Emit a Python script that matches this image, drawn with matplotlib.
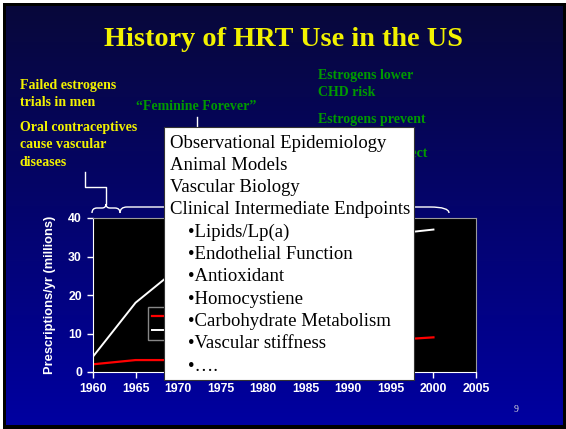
import matplotlib
matplotlib.use("Agg")
import matplotlib.pyplot as plt
from matplotlib.patches import Rectangle
from matplotlib.path import Path
from matplotlib.patches import PathPatch
import numpy as np

# data (middle section is hidden by the text box, estimated)
YEARS = [1960, 1965, 1970, 1975, 1980, 1985, 1990, 1995, 2000]
ESTROGEN = [4, 18, 27, 28, 16, 20, 27, 35.8, 37]
PROGESTIN = [2, 3.1, 3.1, 3.5, 4, 5, 6.5, 8.3, 9]
SERIES_NAMES = ["Progestins", "Estrogens"]
Y_TICKS = [0, 10, 20, 30, 40]
X_TICKS = [1960, 1965, 1970, 1975, 1980, 1985, 1990, 1995, 2000, 2005]

TITLE = "History of HRT Use in the US"
YELLOW_NOTES = ["Failed estrogens\ntrials in men",
                "Oral contraceptives\ncause vascular\ndiseases"]
GREEN_NOTES = ["\u201cFeminine Forever\u201d", "Estrogens lower\nCHD risk",
               "Estrogens prevent", "Cardioprotective effect"]
BOX_MAIN = ["Observational Epidemiology", "Animal Models", "Vascular Biology",
            "Clinical Intermediate Endpoints"]
BOX_BULLETS = ["Lipids/Lp(a)", "Endothelial Function", "Antioxidant",
               "Homocystiene", "Carbohydrate Metabolism", "Vascular stiffness",
               "\u2026."]

W, H = 566, 429
YEL = "#f2f200"
GRN = "#009a00"
SERIF = "Liberation Serif"
SANS = "Liberation Sans"


def pixel_axes(fig, zorder):
    a = fig.add_axes([0, 0, 1, 1], zorder=zorder)
    a.axis("off")
    a.patch.set_alpha(0)
    return a


fig = plt.figure(figsize=(W / 100, H / 100), dpi=100, facecolor="white")

# --- background slide (pixel coordinates) ---
bg = pixel_axes(fig, 0)
bg.add_patch(Rectangle((3, 3), W - 3, H - 3, facecolor="black",
                       edgecolor="none", zorder=0))
t = np.linspace(0, 1, 256)[:, None, None]
top = np.array([0.03, 0.03, 0.23])
bot = np.array([0.0, 0.0, 0.63])
grad = (top + (bot - top) * t) * np.ones((1, 2, 1))
bg.imshow(grad, extent=(6, 563, 425, 6), aspect="auto",
          interpolation="bilinear", zorder=0.5)

bg.text(284, 40, TITLE, color=YEL, fontsize=20.3, fontweight="bold",
        family=SERIF, ha="center", va="center")
bg.text(20, 94, YELLOW_NOTES[0], color=YEL, fontsize=10, fontweight="bold",
        family=SERIF, ha="left", va="center", linespacing=1.35)
bg.text(20, 145, YELLOW_NOTES[1], color=YEL, fontsize=10, fontweight="bold",
        family=SERIF, ha="left", va="center", linespacing=1.42)
bg.text(136, 106, GREEN_NOTES[0], color=GRN, fontsize=10, fontweight="bold",
        family=SERIF, ha="left", va="center")
bg.text(318, 84, GREEN_NOTES[1], color=GRN, fontsize=10, fontweight="bold",
        family=SERIF, ha="left", va="center", linespacing=1.45)
bg.text(318, 119, GREEN_NOTES[2], color=GRN, fontsize=10, fontweight="bold",
        family=SERIF, ha="left", va="center")
bg.text(427, 154, GREEN_NOTES[3], color=GRN, fontsize=10, fontweight="bold",
        family=SERIF, ha="right", va="center")
bg.text(516, 409, "9", color="#dddddd", fontsize=7, family=SERIF,
        ha="center", va="center")

# connectors and braces
lw = 1.0
bg.plot([85, 85, 106, 106], [172, 187, 187, 204], color="white", lw=lw)
bg.plot([197, 197], [117, 127], color="white", lw=lw)
M, L, C = Path.MOVETO, Path.LINETO, Path.CURVE3
brace1 = Path([(92, 213), (92, 208), (97, 208), (102, 208),
               (106, 208), (106, 204), (106, 208), (110, 208),
               (115, 208), (120, 208), (120, 213)],
              [M, C, C, L, C, C, C, C, L, C, C])
brace2 = Path([(120, 213), (120, 207), (127, 207), (430, 207),
               (449, 207), (449, 213)],
              [M, C, C, L, C, C])
for p in (brace1, brace2):
    bg.add_patch(PathPatch(p, facecolor="none", edgecolor="white", lw=lw))
bg.set_xlim(0, W)
bg.set_ylim(H, 0)

# --- the chart ---
x0, x1, y0, y1 = 93, 476, 372, 218
ax = fig.add_axes([x0 / W, (H - y0) / H, (x1 - x0) / W, (y0 - y1) / H], zorder=2)
ax.set_facecolor("black")
l_prog, = ax.plot(YEARS, PROGESTIN, color="#ff0000", lw=1.6)
l_est, = ax.plot(YEARS, ESTROGEN, color="white", lw=1.4)
ax.set_xlim(1960, 2005)
ax.set_ylim(0, 40)
ax.set_xticks(X_TICKS)
ax.set_yticks(Y_TICKS)
ax.tick_params(direction="out", length=4, color="white", labelcolor="white",
               labelsize=8.8, width=1, pad=4)
for lab in ax.get_xticklabels() + ax.get_yticklabels():
    lab.set_fontweight("bold")
    lab.set_family(SANS)
for s in ("left", "bottom"):
    ax.spines[s].set_color("white")
for s in ("top", "right"):
    ax.spines[s].set_color("#9a9a9a")
ax.set_ylabel("Prescriptions/yr (millions)", color="white", fontsize=9.3,
              fontweight="bold", family=SANS, labelpad=9)
leg = ax.legend([l_prog, l_est], SERIES_NAMES, loc="upper left",
                bbox_to_anchor=((148 - x0) / (x1 - x0), (y0 - 307) / (y0 - y1)),
                frameon=True, fancybox=False, facecolor="black",
                edgecolor="#aaaaaa", fontsize=8, labelcolor="white",
                handlelength=2.0, borderpad=0.4, labelspacing=0.4,
                borderaxespad=0)
leg.get_frame().set_linewidth(1)

# --- overlay text box ---
ov = pixel_axes(fig, 3)
ov.add_patch(Rectangle((164, 127), 250, 253, facecolor="white",
                       edgecolor="#333333", lw=0.8))
y = 143
for line in BOX_MAIN:
    ov.text(170, y, line, color="black", fontsize=13.5, family=SERIF,
            ha="left", va="center")
    y += 22.3
for line in BOX_BULLETS:
    ov.text(188, y, "\u2022" + line, color="black", fontsize=13.5,
            family=SERIF, ha="left", va="center")
    y += 22.3
ov.set_xlim(0, W)
ov.set_ylim(H, 0)

fig.savefig("out.png", dpi=100, facecolor="white")
